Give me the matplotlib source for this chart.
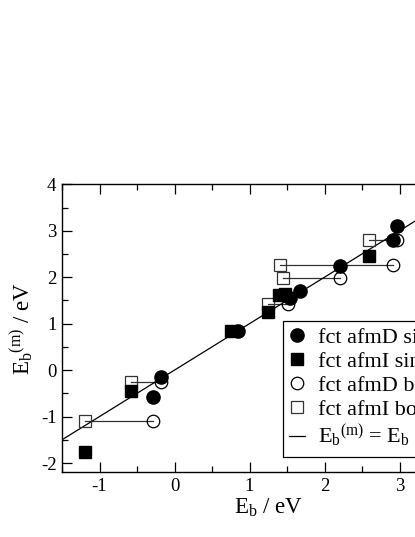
import matplotlib
matplotlib.use("Agg")
import matplotlib.pyplot as plt
from matplotlib.ticker import MultipleLocator

plt.rcParams['font.family'] = ['Liberation Serif', 'DejaVu Serif']
plt.rcParams['mathtext.default'] = 'regular'
plt.rcParams['axes.unicode_minus'] = False

# fct afmD simple (filled circles)
afmD_simple_x = [2.97, 2.91, 2.20, 1.675, 1.54, 0.845, -0.185, -0.29]
afmD_simple_y = [3.10, 2.80, 2.25, 1.70, 1.555, 0.84, -0.14, -0.57]
# fct afmI simple (filled squares)
afmI_simple_x = [2.59, 1.475, 1.39, 1.245, 0.755, -0.58, -1.19]
afmI_simple_y = [2.46, 1.64, 1.61, 1.26, 0.84, -0.44, -1.76]
# fct afmD bond (open circles)
afmD_bond_x = [2.97, 2.91, 2.20, 1.51, -0.18, -0.29]
afmD_bond_y = [2.81, 2.27, 1.98, 1.42, -0.26, -1.09]
# fct afmI bond (open squares), same rows as afmD bond
afmI_bond_x = [2.59, 1.41, 1.44, 1.245, -0.58, -1.19]
afmI_bond_y = [2.81, 2.27, 1.98, 1.42, -0.26, -1.09]

labels = ['fct afmD simple', 'fct afmI simple', 'fct afmD bond', 'fct afmI bond',
          r'$E_b{}^{(m)}$ = $E_b$']

fig = plt.figure(figsize=(4.15, 5.37), dpi=100)
ax = fig.add_axes([0.1494, 0.1205, 0.994, 0.5363])

# connectors between bond pairs
for xs, xc, ys, yc in zip(afmI_bond_x, afmD_bond_x, afmI_bond_y, afmD_bond_y):
    ax.plot([xs, xc], [ys, yc], color='#333333', lw=0.9, zorder=1)

ref = [-1.5, 4.0]
h_line, = ax.plot(ref, ref, color='black', lw=0.9, zorder=1.5)

h_od, = ax.plot(afmD_bond_x, afmD_bond_y, 'o', ms=9, mfc='none', mec='black',
                mew=0.9, ls='none', zorder=2)
h_os, = ax.plot(afmI_bond_x, afmI_bond_y, 's', ms=8, mfc='none', mec='#333333',
                mew=0.9, ls='none', zorder=2)
h_fs, = ax.plot(afmI_simple_x, afmI_simple_y, 's', ms=8, color='black', ls='none', zorder=3)
h_fd, = ax.plot(afmD_simple_x, afmD_simple_y, 'o', ms=9.5, color='black', ls='none', zorder=3)

ax.set_xlim(-1.5, 4.0)
ax.set_ylim(-2.2, 4.0)
ax.xaxis.set_major_locator(MultipleLocator(1))
ax.xaxis.set_minor_locator(MultipleLocator(0.5))
ax.yaxis.set_major_locator(MultipleLocator(1))
ax.yaxis.set_minor_locator(MultipleLocator(0.5))
ax.tick_params(which='both', direction='in', top=True, right=True, width=0.9)
ax.tick_params(which='major', length=7, labelsize=13.5, pad=4)
ax.tick_params(which='minor', length=4)
for s in ax.spines.values():
    s.set_linewidth(1.0)

ax.set_xlabel(r'$E_b$ / eV', fontsize=16.5, labelpad=1)
ax.set_ylabel(r'$E_b{}^{(m)}$ / eV', fontsize=16.5, labelpad=4)

leg = ax.legend([h_fd, h_fs, h_od, h_os, h_line], labels, loc='upper left',
                bbox_to_anchor=(0.535, 0.526), borderaxespad=0, fontsize=16,
                handlelength=0.7, handletextpad=0.6, labelspacing=0.15,
                borderpad=0.3, fancybox=False, framealpha=1, edgecolor='black')
leg.get_frame().set_linewidth(0.9)

fig.savefig('out.png', dpi=100)
